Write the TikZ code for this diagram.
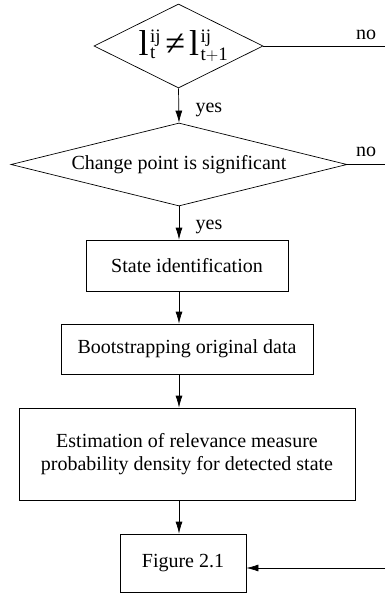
\documentclass[tikz,border=0pt]{standalone}
\usepackage{fontspec}
\setmainfont{Liberation Serif}
\usetikzlibrary{shapes.geometric,arrows.meta}
\DeclareMathSizes{36}{36}{19}{14}
\begin{document}
\begin{tikzpicture}[x=1pt,y=1pt,
  every node/.style={font=\fontsize{20}{23}\selectfont},
  box/.style={draw, line width=0.7pt, inner sep=0pt, align=center},
  dia/.style={draw, diamond, line width=0.7pt, inner sep=0pt},
  arr/.style={-{Latex[length=12pt,width=7pt]}, line width=0.7pt},
  ln/.style={line width=0.7pt}]
\useasboundingbox (0,0) rectangle (385,-596);
\coordinate (rt) at (385,0);
\node[dia, aspect=2.01, minimum width=169pt, minimum height=84pt] (d1) at (178.5,-46)
  {\fontsize{36}{40}\selectfont\kern10pt$\mathrm{l}\kern1.5pt^{\mathrm{ij}}_{\mathrm{t}}\mkern3mu\mbox{≠}\mkern3mu\mathrm{l}\kern1.5pt^{\mathrm{ij}}_{\mathrm{t+1}}$};
\node[dia, aspect=4.05, minimum width=336pt, minimum height=83pt] (d2) at (179,-164.5) {Change point is significant};
\node[box, minimum width=202pt, minimum height=51pt] (st) at (187,-265.5) {State identification};
\node[box, minimum width=252pt, minimum height=50pt] (bo) at (187,-349) {Bootstrapping original data};
\node[box, minimum width=336pt, minimum height=92pt] (es) at (187,-454) {Estimation of relevance measure\\probability density for detected state};
\node[box, minimum width=126pt, minimum height=58pt] (fg) at (183,-563) {Figure 2.1};
\coordinate (fb) at (385,-568);
\draw[ln] (d1.east) -- (rt |- d1.east);
\node (no1) at (366,-35) {no};
\draw[ln] (d2.east) -- (rt |- d2.east);
\node (no2) at (366,-152) {no};
\draw[arr] (d1.south) -- node[pos=0.63, anchor=west, xshift=13pt] (y1) {yes} (d2.north);
\draw[arr] (d2.south) -- node[pos=0.62, anchor=west, xshift=13pt] (y2) {yes} (d2.south |- st.north);
\draw[arr] (st.south -| d2.south) -- (bo.north -| d2.south);
\draw[arr] (bo.south -| d2.south) -- (es.north -| d2.south);
\draw[arr] (es.south -| d2.south) -- (fg.north -| d2.south);
\draw[arr] (fb) -- (fb -| fg.east);
\end{tikzpicture}
\end{document}
